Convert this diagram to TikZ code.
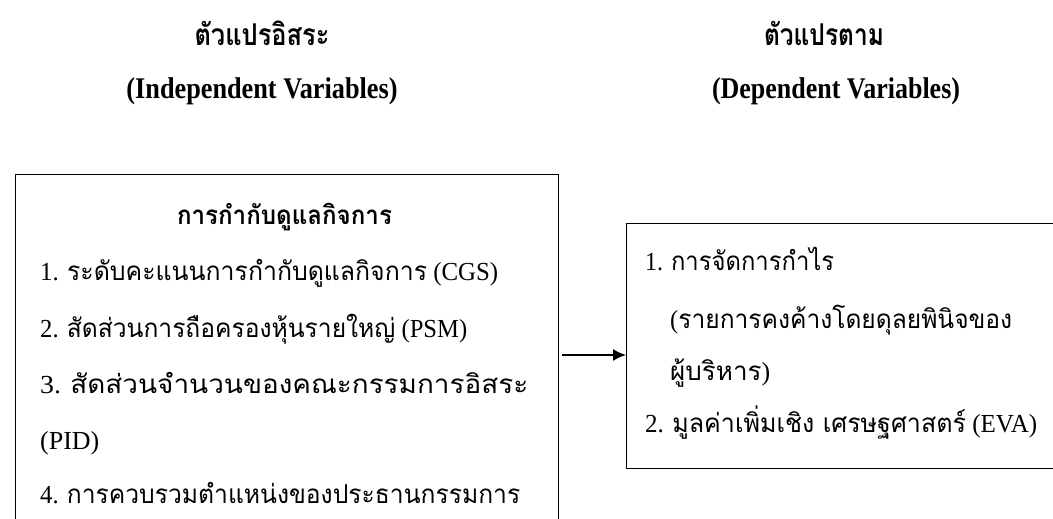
\documentclass[tikz,border=0pt]{standalone}
\usepackage{fontspec}
\setmainfont{Liberation Serif}
\newfontfamily\thai[Script=Thai]{Loma}
\usetikzlibrary{arrows.meta}
\newcommand{\fitw}[2]{\resizebox{#1pt}{\height}{#2}}
\tikzset{
 txt/.style={inner sep=0pt, anchor=base west, font=\fontsize{26}{30}\selectfont},
 ttl/.style={inner sep=0pt, anchor=base, font=\fontsize{26}{30}\selectfont\bfseries},
 head/.style={inner sep=0pt, anchor=base, font=\fontsize{30}{34}\selectfont\bfseries},
 frame/.style={draw, line width=1pt, inner sep=0pt, anchor=north west},
 conn/.style={line width=1.5pt, -{Latex[length=13pt,width=12pt]}}
}
\begin{document}
\begin{tikzpicture}[x=1pt,y=-1pt]
\useasboundingbox (0,0) rectangle (1053,519);
\begin{scope}
\clip (0,0) rectangle (1053,519);
\node[frame, minimum width=543pt, minimum height=400pt] (L) at (15,174) {};
\node[frame, minimum width=460pt, minimum height=245pt] (R) at (626,223) {};
\end{scope}
\coordinate (a) at (562,355);
\draw[conn] (a) -- (a -| R.west);

\node[head] (h1) at (262,46) {\fitw{135}{\thai ตัวแปรอิสระ}};
\node[head] (h2) at (262,99) {\fitw{271}{(Independent Variables)}};
\node[head] (h3) at (824,46) {\fitw{120}{\thai ตัวแปรตาม}};
\node[head] (h4) at (836,99) {\fitw{248}{(Dependent Variables)}};

\node[ttl] (lt) at (284.5,224) {\fitw{215}{\thai การกำกับดูแลกิจการ}};
\node[txt] (l1) at (40,280) {\fitw{458}{1. {\thai ระดับคะแนนการกำกับดูแลกิจการ} (CGS)}};
\node[txt] (l2) at (40,337) {\fitw{427}{2. {\thai สัดส่วนการถือครองหุ้นรายใหญ่} (PSM)}};
\node[txt] (l3) at (40,393) {\fitw{488}{3. {\thai สัดส่วนจำนวนของคณะกรรมการอิสระ}}};
\node[txt] (l4) at (40,449) {(PID)};
\node[txt] (l5) at (40,503) {\fitw{480}{4. {\thai การควบรวมตำแหน่งของประธานกรรมการ}}};

\node[txt] (r1) at (645,270) {\fitw{189}{1. {\thai การจัดการกำไร}}};
\node[txt] (r2) at (670,328) {\fitw{342}{({\thai รายการคงค้างโดยดุลยพินิจของ}}};
\node[txt] (r3) at (670,380) {\fitw{100}{{\thai ผู้บริหาร})}};
\node[txt] (r4) at (645,432) {\fitw{392}{2. {\thai มูลค่าเพิ่มเชิง เศรษฐศาสตร์} (EVA)}};
\end{tikzpicture}
\end{document}
